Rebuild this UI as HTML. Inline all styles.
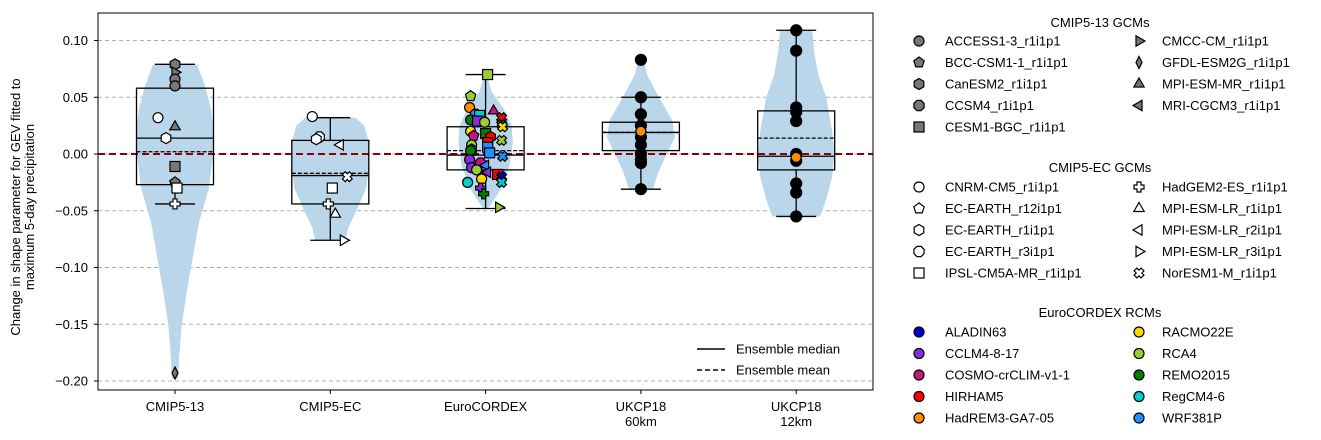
<!DOCTYPE html>
<html><head><meta charset="utf-8"><style>
body{margin:0;background:#fff;}
svg{display:block;font-family:"Liberation Sans",sans-serif;}
</style></head><body>
<svg id="c" width="1321" height="440">
</svg>
<script>
const groups=["CMIP5-13","CMIP5-EC","EuroCORDEX","UKCP18\n60km","UKCP18\n12km"];
const q1s=[-0.027,-0.044,-0.014,0.003,-0.014];
const q3s=[0.058,0.012,0.024,0.028,0.038];
const medians=[0.014,-0.019,-0.001,0.019,-0.002];
const means=[0.002,-0.017,0.003,0.019,0.014];
const whiskHi=[0.079,0.032,0.070,0.050,0.109];
const whiskLo=[-0.044,-0.076,-0.048,-0.031,-0.055];
// violin profiles: [value, relative half-width]
const violins=[
 [[0.079,0.55],[0.06,0.75],[0.04,0.9],[0.02,0.97],[0.0,0.95],[-0.03,0.85],[-0.06,0.6],[-0.09,0.45],[-0.12,0.3],[-0.15,0.17],[-0.18,0.1],[-0.198,0.08]],
 [[0.032,0.62],[0.025,0.85],[0.01,0.97],[-0.01,0.97],[-0.03,0.9],[-0.05,0.65],[-0.065,0.45],[-0.076,0.38]],
 [[0.070,0.03],[0.055,0.15],[0.04,0.45],[0.025,0.65],[0.01,0.68],[-0.01,0.6],[-0.03,0.4],[-0.045,0.12],[-0.048,0.05]],
 [[0.083,0.07],[0.07,0.15],[0.05,0.45],[0.03,0.78],[0.015,0.85],[0.0,0.65],[-0.015,0.45],[-0.031,0.3]],
 [[0.109,0.4],[0.09,0.45],[0.07,0.55],[0.05,0.75],[0.02,0.9],[0.0,0.95],[-0.02,0.9],[-0.04,0.75],[-0.055,0.6]]
];
const yTicks=[0.10,0.05,0.00,-0.05,-0.10,-0.15,-0.20];
const cmip13=[[0.079,0,"hex","#777"],[0.072,0,"tr","#777"],[0.066,0,"circle","#777"],[0.060,0,"circle","#777"],[0.024,0,"tu","#777"],[-0.011,0,"sq","#777"],[-0.025,0,"pent","#777"],[-0.193,0,"dia","#777"],[0.032,-17,"circle","#fff"],[0.014,-9,"hex","#fff"],[-0.030,2,"sq","#fff"],[-0.044,0,"plus","#fff"]];
const cmipEC=[[0.033,-18,"circle","#fff"],[0.015,-11,"oct","#fff"],[0.013,-14,"hex","#fff"],[0.008,10,"tl","#fff"],[-0.020,17,"x","#fff"],[-0.030,2,"sq","#fff"],[-0.044,-2,"plus","#fff"],[-0.053,5,"tu","#fff"],[-0.076,13,"tr","#fff"]];
const rcmVals=[0.070,0.051,0.041,0.038,0.035,0.034,0.032,0.030,0.029,0.028,0.026,0.024,0.020,0.018,0.016,0.015,0.012,0.010,0.008,0.006,0.004,0.003,0.001,-0.002,-0.005,-0.008,-0.010,-0.012,-0.014,-0.016,-0.018,-0.020,-0.022,-0.025,-0.025,-0.030,-0.035,-0.047];
const rcmOff=[2,-15,-16,8,-10,-6,16,-15,-8,-1,16,17,-15,0,-12,5,16,2,-14,2,-14,-15,4,17,-16,-5,0,-14,-9,2,12,16,-4,-18,16,-5,-2,13];
const rcmMk=["sq","pent","circle","tu","oct","sq","x","circle","sq","circle","x","x","circle","sq","pent","hex","x","sq","circle","sq","hex","circle","sq","x","circle","oct","tl","circle","circle","tl","sq","x","circle","circle","x","plus","plus","tr"];
const rcmCol=["#9acd32","#9acd32","#ff8c00","#c71585","#1e90ff","#00ced1","#ff0000","#008000","#8a2be2","#9acd32","#008000","#ffd700","#ffd700","#008000","#c71585","#ff0000","#9acd32","#ff0000","#9acd32","#1e90ff","#00ced1","#008000","#1e90ff","#1e90ff","#8a2be2","#c71585","#1e90ff","#8a2be2","#9acd32","#8a2be2","#ff0000","#0000cc","#ffd700","#00ced1","#00ced1","#8a2be2","#008000","#9acd32"];
const uk60=[0.083,0.050,0.035,0.025,0.015,0.008,0.0,-0.005,-0.008,-0.031];
const uk60Orange=0.020;
const uk12=[0.109,0.091,0.041,0.037,0.029,0.0,-0.006,-0.026,-0.034,-0.055];
const uk12Orange=-0.003;

const NS="http://www.w3.org/2000/svg";
const svg=document.getElementById("c");
const L=98,R=873,T=13,B=390;
const y=v=>154-v*1135;
const x=i=>175+i*155.3;
function el(t,a,p){const e=document.createElementNS(NS,t);for(const k in a)e.setAttribute(k,a[k]);(p||svg).appendChild(e);return e;}
function marker(type,cx,cy,fill,r){
 r=r||5;let e;const st={fill:fill,stroke:"#000","stroke-width":1.2};
 const poly=(n,rot,rr)=>{let p=[];for(let k=0;k<n;k++){const a=rot+k*2*Math.PI/n;p.push((cx+rr*Math.cos(a)).toFixed(1)+","+(cy+rr*Math.sin(a)).toFixed(1));}return p.join(" ");};
 const cross=(a)=>`${cx-a},${cy-r} ${cx+a},${cy-r} ${cx+a},${cy-a} ${cx+r},${cy-a} ${cx+r},${cy+a} ${cx+a},${cy+a} ${cx+a},${cy+r} ${cx-a},${cy+r} ${cx-a},${cy+a} ${cx-r},${cy+a} ${cx-r},${cy-a} ${cx-a},${cy-a}`;
 if(type==="circle")e=el("circle",Object.assign({cx:cx,cy:cy,r:r},st));
 else if(type==="sq")e=el("rect",Object.assign({x:cx-r,y:cy-r,width:2*r,height:2*r},st));
 else if(type==="hex")e=el("polygon",Object.assign({points:poly(6,-Math.PI/2,r+0.5)},st));
 else if(type==="oct")e=el("polygon",Object.assign({points:poly(8,Math.PI/8,r+0.5)},st));
 else if(type==="pent")e=el("polygon",Object.assign({points:poly(5,-Math.PI/2,r+0.5)},st));
 else if(type==="tu")e=el("polygon",Object.assign({points:poly(3,-Math.PI/2,r+1)},st));
 else if(type==="tr")e=el("polygon",Object.assign({points:poly(3,0,r+1)},st));
 else if(type==="tl")e=el("polygon",Object.assign({points:poly(3,Math.PI,r+1)},st));
 else if(type==="dia")e=el("polygon",Object.assign({points:`${cx},${cy-r-1} ${cx+r*0.6},${cy} ${cx},${cy+r+1} ${cx-r*0.6},${cy}`},st));
 else if(type==="plus")e=el("polygon",Object.assign({points:cross(r*0.4)},st));
 else if(type==="x"){const g=el("g",{transform:`rotate(45 ${cx} ${cy})`});el("polygon",Object.assign({points:cross(r*0.4)},st),g);e=g;}
 return e;
}
yTicks.forEach(v=>{
 const g=el("line",{x1:L,x2:R,y1:y(v),y2:y(v),stroke:"#b0b0b0","stroke-dasharray":"4,3","stroke-width":0.9});
 
 el("line",{x1:L-4,x2:L,y1:y(v),y2:y(v),stroke:"#000"});
 const t=el("text",{x:88,y:y(v)+4.5,"text-anchor":"end","font-size":13});t.textContent=v.toFixed(2).replace("-","\u2212");
 
});
violins.forEach((pr,i)=>{
 const W=40;let left=[],right=[];
 pr.forEach(([v,w])=>{right.push((x(i)+w*W)+","+y(v));left.unshift((x(i)-w*W)+","+y(v));});
 const p=el("polygon",{points:right.concat(left).join(" "),fill:"#bad6ea"});
 
});
el("line",{x1:L,x2:R,y1:y(0),y2:y(0),stroke:"#8b0000","stroke-width":2,"stroke-dasharray":"7,4"});
groups.forEach((gname,i)=>{
 const cx=x(i),hw=38.5;
 const g=el("g",{});
 const s={stroke:"#000","stroke-width":1.3};
 el("line",Object.assign({x1:cx,x2:cx,y1:y(q3s[i]),y2:y(whiskHi[i])},s),g);
 el("line",Object.assign({x1:cx,x2:cx,y1:y(q1s[i]),y2:y(whiskLo[i])},s),g);
 el("line",Object.assign({x1:cx-20,x2:cx+20,y1:y(whiskHi[i]),y2:y(whiskHi[i])},s),g);
 el("line",Object.assign({x1:cx-20,x2:cx+20,y1:y(whiskLo[i]),y2:y(whiskLo[i])},s),g);
 el("rect",Object.assign({x:cx-hw,y:y(q3s[i]),width:2*hw,height:y(q1s[i])-y(q3s[i]),fill:"none"},s),g);
 el("line",Object.assign({x1:cx-hw,x2:cx+hw,y1:y(medians[i]),y2:y(medians[i])},s),g);
 el("line",Object.assign({x1:cx-hw,x2:cx+hw,y1:y(means[i]),y2:y(means[i]),"stroke-dasharray":"4,2"},s),g);
 gname.split("\n").forEach((ln,k)=>{const t=el("text",{x:cx,y:411+k*15,"text-anchor":"middle","font-size":13});t.textContent=ln;
 });
 el("line",{x1:cx,x2:cx,y1:B,y2:B+4,stroke:"#000"});
});
cmip13.forEach(p=>{const m=marker(p[2],x(0)+p[1],y(p[0]),p[3]);});
cmipEC.forEach(p=>{const m=marker(p[2],x(1)+p[1],y(p[0]),p[3]);});
rcmVals.forEach((v,k)=>{const m=marker(rcmMk[k],x(2)+rcmOff[k],y(v),rcmCol[k]);});
uk60.forEach(v=>{const m=marker("circle",x(3),y(v),"#000",5.5);});
marker("circle",x(3),y(uk60Orange),"#ff8c00",5);
uk12.forEach(v=>{const m=marker("circle",x(4),y(v),"#000",5.5);});
marker("circle",x(4),y(uk12Orange),"#ff8c00",5);
el("rect",{x:L,y:T,width:R-L,height:B-T,fill:"none",stroke:"#000","stroke-width":1});
const yl=el("text",{transform:"translate(20,207) rotate(-90)","text-anchor":"middle","font-size":13});

el("tspan",{x:0,y:0},yl).textContent="Change in shape parameter for GEV fitted to";
el("tspan",{x:0,y:14},yl).textContent="maximum 5-day precipitation";
[["Ensemble median",349,""],["Ensemble mean",370,"5,3"]].forEach(([t,yy,d])=>{
 el("line",{x1:697,x2:725,y1:yy,y2:yy,stroke:"#000","stroke-width":1.5,"stroke-dasharray":d});
 const tx=el("text",{x:736,y:yy+4.5,"font-size":13});tx.textContent=t;
 
});
const legs=[
 {title:"CMIP5-13 GCMs",ty:27,ry:41,fill:"#777",c1:[["circle","ACCESS1-3_r1i1p1"],["pent","BCC-CSM1-1_r1i1p1"],["hex","CanESM2_r1i1p1"],["oct","CCSM4_r1i1p1"],["sq","CESM1-BGC_r1i1p1"]],c2:[["tr","CMCC-CM_r1i1p1"],["dia","GFDL-ESM2G_r1i1p1"],["tu","MPI-ESM-MR_r1i1p1"],["tl","MRI-CGCM3_r1i1p1"]]},
 {title:"CMIP5-EC GCMs",ty:172,ry:187,fill:"#fff",c1:[["circle","CNRM-CM5_r1i1p1"],["pent","EC-EARTH_r12i1p1"],["hex","EC-EARTH_r1i1p1"],["oct","EC-EARTH_r3i1p1"],["sq","IPSL-CM5A-MR_r1i1p1"]],c2:[["plus","HadGEM2-ES_r1i1p1"],["tu","MPI-ESM-LR_r1i1p1"],["tl","MPI-ESM-LR_r2i1p1"],["tr","MPI-ESM-LR_r3i1p1"],["x","NorESM1-M_r1i1p1"]]},
 {title:"EuroCORDEX RCMs",ty:317,ry:332,fill:null,c1:[["#0000cc","ALADIN63"],["#8a2be2","CCLM4-8-17"],["#c71585","COSMO-crCLIM-v1-1"],["#ff0000","HIRHAM5"],["#ff8c00","HadREM3-GA7-05"]],c2:[["#ffd700","RACMO22E"],["#9acd32","RCA4"],["#008000","REMO2015"],["#00ced1","RegCM4-6"],["#1e90ff","WRF381P"]]}
];
legs.forEach(lg=>{
 const t=el("text",{x:1100,y:lg.ty,"text-anchor":"middle","font-size":13});t.textContent=lg.title;
 
 [[lg.c1,919,945],[lg.c2,1139,1162]].forEach(([items,mx,tx])=>{
  items.forEach((it,k)=>{
   const yy=lg.ry+k*21.5;
   if(lg.fill)marker(it[0],mx,yy,lg.fill,5);else marker("circle",mx,yy,it[0],5);
   const tt=el("text",{x:tx,y:yy+4.5,"font-size":13});tt.textContent=it[1];
   
  });
 });
});
</script>
</body></html>
